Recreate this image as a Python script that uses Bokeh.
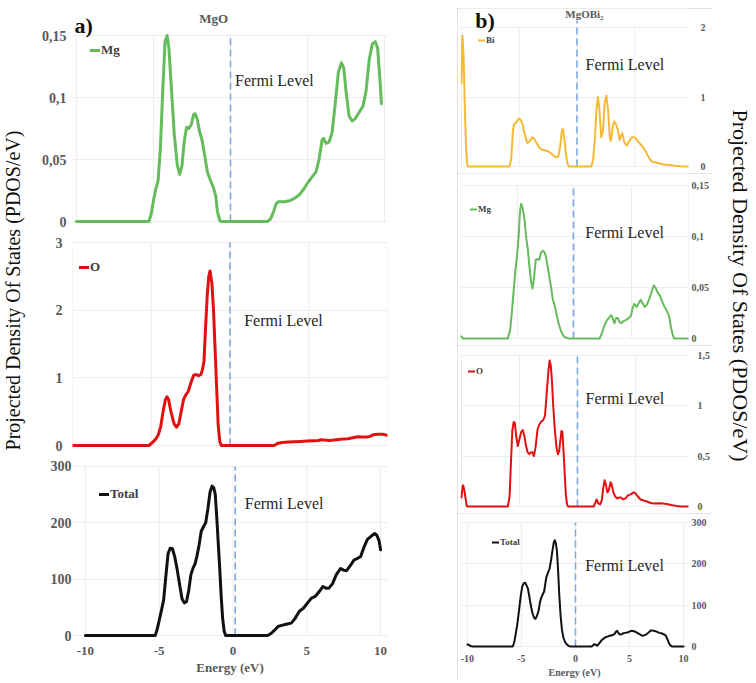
import math
from bokeh.plotting import figure
from bokeh.models import (Range1d, FixedTicker, Label, Legend, LegendItem, Spacer)
from bokeh.layouts import row, column
from bokeh.embed import file_html
from bokeh.resources import INLINE

SERIF = "Liberation Serif"
GRAY = "#595959"

x_ticks = [-10, -5, 0, 5, 10]
x_tick_labels = ["-10", "-5", "0", "5", "10"]

# ---------------- a) MgO ----------------
a_mg_e = [-10, -5.3, -5.15, -5.0, -4.85, -4.7, -4.55, -4.4, -4.25, -4.12, -4.0, -3.85, -3.65, -3.45,
          -3.3, -3.15, -3.0, -2.85, -2.7, -2.55, -2.4, -2.3, -2.15, -2.0, -1.85, -1.7, -1.5, -1.3,
          -1.1, -0.95, -0.85, -0.7, -0.6, 2.4, 2.6, 2.8, 2.95, 3.1, 3.5, 3.9, 4.2, 4.5, 4.75, 5.0,
          5.3, 5.55, 5.75, 5.95, 6.05, 6.2, 6.4, 6.6, 6.8, 7.0, 7.2, 7.35, 7.5, 7.7, 7.9, 8.1, 8.35,
          8.6, 8.8, 9.0, 9.2, 9.4, 9.55, 9.7, 9.8]
a_mg_v = [0, 0, 0.006, 0.017, 0.026, 0.033, 0.06, 0.105, 0.145, 0.15, 0.14, 0.11, 0.07, 0.045,
          0.038, 0.045, 0.065, 0.076, 0.075, 0.078, 0.086, 0.087, 0.082, 0.072, 0.066, 0.055, 0.04,
          0.033, 0.027, 0.02, 0.008, 0.001, 0, 0, 0.002, 0.008, 0.014, 0.016, 0.016, 0.017, 0.019,
          0.022, 0.026, 0.031, 0.036, 0.04, 0.05, 0.066, 0.067, 0.063, 0.064, 0.072, 0.095, 0.12,
          0.128, 0.124, 0.105, 0.085, 0.081, 0.083, 0.088, 0.093, 0.105, 0.13, 0.143, 0.145, 0.14,
          0.115, 0.095]

a_o_e = [-10, -5.15, -4.9, -4.7, -4.55, -4.4, -4.25, -4.1, -4.0, -3.9, -3.75, -3.55, -3.4, -3.25,
         -3.1, -2.95, -2.8, -2.65, -2.45, -2.3, -2.15, -2.0, -1.85, -1.75, -1.65, -1.55, -1.45,
         -1.35, -1.27, -1.15, -1.05, -0.95, -0.85, -0.75, -0.65, -0.55, 2.8, 3.0, 3.3, 3.7, 4.1,
         4.5, 4.9, 5.3, 5.6, 5.8, 6.0, 6.3, 6.6, 6.9, 7.2, 7.5, 7.8, 8.1, 8.4, 8.7, 8.9, 9.1, 9.4,
         9.7, 10]
a_o_v = [0, 0, 0.05, 0.1, 0.16, 0.28, 0.5, 0.68, 0.72, 0.68, 0.5, 0.32, 0.27, 0.32, 0.5, 0.68,
         0.75, 0.8, 0.95, 1.04, 1.05, 1.03, 1.05, 1.12, 1.25, 1.75, 2.2, 2.5, 2.58, 2.4, 2.02, 1.45,
         0.86, 0.3, 0.06, 0, 0, 0.03, 0.045, 0.05, 0.055, 0.06, 0.065, 0.07, 0.075, 0.085, 0.08,
         0.075, 0.08, 0.09, 0.095, 0.1, 0.115, 0.13, 0.125, 0.125, 0.135, 0.16, 0.165, 0.165, 0.15]

a_tot_e = [-10, -5.27, -5.15, -5.04, -4.87, -4.7, -4.55, -4.4, -4.25, -4.1, -3.95, -3.8, -3.6,
           -3.45, -3.3, -3.15, -3.0, -2.85, -2.7, -2.57, -2.45, -2.3, -2.15, -2.0, -1.85, -1.7,
           -1.55, -1.42, -1.3, -1.2, -1.1, -1.0, -0.9, -0.8, -0.7, -0.6, -0.5, 2.35, 2.6, 2.8,
           3.05, 3.3, 3.6, 3.95, 4.2, 4.5, 4.75, 5.0, 5.3, 5.6, 5.85, 6.1, 6.3, 6.5, 6.75, 7.0,
           7.3, 7.5, 7.7, 7.95, 8.2, 8.45, 8.65, 8.85, 9.1, 9.35, 9.6, 9.75, 9.9, 10]
a_tot_v = [0, 0, 10, 22, 42, 63, 105, 145, 155, 154, 140, 120, 88, 65, 58, 60, 80, 108, 120, 127,
           140, 160, 185, 193, 200, 225, 255, 265, 262, 250, 210, 165, 120, 70, 30, 8, 0, 0, 4, 9,
           16, 18, 20, 22, 30, 43, 48, 56, 66, 70, 78, 87, 84, 84, 92, 108, 119, 116, 115, 124,
           134, 137, 140, 155, 170, 176, 181, 178, 168, 152]

# ---------------- b) MgOBi2 ----------------
b_bi_e = [-10, -9.92, -9.82, -9.7, -9.6, -9.5, -9.42, -5.85, -5.7, -5.55, -5.45, -5.25, -5.1,
          -4.98, -4.85, -4.7, -4.5, -4.3, -4.1, -3.88, -3.7, -3.5, -3.25, -3.0, -2.7, -2.4, -2.1,
          -1.8, -1.6, -1.45, -1.3, -1.22, -1.1, -1.0, -0.85, -0.72, 1.25, 1.4, 1.55, 1.7, 1.82,
          1.95, 2.1, 2.25, 2.4, 2.55, 2.7, 2.85, 2.95, 3.1, 3.22, 3.4, 3.55, 3.7, 3.8, 3.93, 4.1,
          4.3, 4.5, 4.75, 5.0, 5.25, 5.5, 5.75, 6.0, 6.25, 6.5, 7.0, 7.5, 8.0, 8.5, 9.0, 10]
b_bi_v = [1.2, 1.88, 1.6, 0.8, 0.25, 0.03, 0, 0, 0.1, 0.5, 0.61, 0.63, 0.68, 0.69, 0.66, 0.6,
          0.45, 0.34, 0.36, 0.42, 0.4, 0.34, 0.27, 0.24, 0.23, 0.21, 0.17, 0.13, 0.15, 0.3, 0.52,
          0.54, 0.42, 0.25, 0.06, 0, 0, 0.1, 0.4, 0.85, 1.0, 0.8, 0.42, 0.5, 0.92, 1.02, 0.8, 0.4,
          0.37, 0.58, 0.65, 0.6, 0.52, 0.38, 0.44, 0.48, 0.35, 0.3, 0.36, 0.42, 0.42, 0.37, 0.32,
          0.27, 0.2, 0.12, 0.07, 0.05, 0.03, 0.02, 0.01, 0.005, 0]

b_mg_e = [-10, -9.9, -9.8, -5.85, -5.65, -5.5, -5.35, -5.2, -5.05, -4.9, -4.78, -4.68, -4.55,
          -4.4, -4.25, -4.1, -3.95, -3.8, -3.68, -3.55, -3.4, -3.25, -3.1, -2.95, -2.8, -2.65,
          -2.5, -2.35, -2.2, -2.05, -1.9, -1.75, -1.6, -1.4, -1.2, -1.0, -0.8, -0.5, 2.2, 2.4, 2.6,
          2.8, 3.0, 3.2, 3.35, 3.5, 3.65, 3.8, 3.95, 4.1, 4.3, 4.5, 4.75, 4.95, 5.1, 5.25, 5.45,
          5.6, 5.8, 5.95, 6.15, 6.35, 6.6, 6.8, 6.95, 7.1, 7.3, 7.5, 7.7, 7.9, 8.1, 8.3, 8.45, 8.6,
          8.75, 10]
b_mg_v = [0.002, 0.002, 0, 0, 0.008, 0.025, 0.045, 0.065, 0.08, 0.1, 0.125, 0.132, 0.128, 0.118,
          0.1, 0.088, 0.07, 0.055, 0.049, 0.06, 0.077, 0.078, 0.077, 0.084, 0.086, 0.085, 0.08,
          0.07, 0.06, 0.05, 0.038, 0.033, 0.025, 0.015, 0.008, 0.003, 0.001, 0, 0, 0.005, 0.012,
          0.017, 0.02, 0.023, 0.02, 0.015, 0.02, 0.02, 0.016, 0.015, 0.017, 0.018, 0.02, 0.022,
          0.03, 0.034, 0.031, 0.034, 0.038, 0.035, 0.031, 0.033, 0.04, 0.047, 0.052, 0.05, 0.045,
          0.042, 0.036, 0.031, 0.027, 0.022, 0.012, 0.004, 0, 0]

b_o_e = [-10, -9.9, -9.85, -9.75, -9.65, -9.55, -9.5, -6.0, -5.85, -5.75, -5.62, -5.5, -5.4,
         -5.28, -5.15, -5.0, -4.85, -4.72, -4.58, -4.43, -4.3, -4.15, -4.0, -3.9, -3.75, -3.6,
         -3.45, -3.3, -3.15, -2.95, -2.8, -2.7, -2.6, -2.5, -2.4, -2.3, -2.2, -2.1, -1.95, -1.8,
         -1.68, -1.58, -1.48, -1.38, -1.3, -1.2, -1.1, -1.0, -0.9, -0.8, 1.4, 1.55, 1.65, 1.8,
         1.95, 2.1, 2.22, 2.34, 2.45, 2.58, 2.7, 2.85, 2.95, 3.1, 3.25, 3.45, 3.6, 3.75, 3.95,
         4.15, 4.35, 4.6, 4.85, 5.0, 5.2, 5.45, 5.7, 6.0, 6.3, 6.6, 7.0, 7.4, 7.8, 8.2, 8.6, 8.9,
         10]
b_o_v = [0.09, 0.2, 0.21, 0.16, 0.08, 0.01, 0, 0, 0.1, 0.39, 0.75, 0.84, 0.83, 0.7, 0.6, 0.67,
         0.74, 0.76, 0.7, 0.6, 0.54, 0.52, 0.54, 0.54, 0.5, 0.6, 0.76, 0.81, 0.84, 0.86, 0.9, 1.05,
         1.2, 1.35, 1.45, 1.4, 1.25, 1.02, 0.76, 0.58, 0.52, 0.55, 0.65, 0.75, 0.74, 0.55, 0.33,
         0.12, 0.02, 0, 0, 0.04, 0.07, 0.03, 0.02, 0.06, 0.18, 0.26, 0.22, 0.14, 0.16, 0.24, 0.22,
         0.14, 0.1, 0.08, 0.09, 0.09, 0.07, 0.08, 0.11, 0.12, 0.14, 0.13, 0.1, 0.07, 0.06, 0.05,
         0.035, 0.03, 0.032, 0.03, 0.022, 0.012, 0.004, 0, 0]

b_tot_e = [-10, -9.85, -9.7, -9.5, -5.8, -5.65, -5.5, -5.4, -5.28, -5.18, -5.05, -4.92, -4.78,
           -4.64, -4.5, -4.4, -4.25, -4.1, -3.95, -3.8, -3.7, -3.55, -3.4, -3.3, -3.2, -3.05,
           -2.9, -2.8, -2.7, -2.55, -2.4, -2.25, -2.15, -2.02, -1.92, -1.82, -1.72, -1.62, -1.5,
           -1.38, -1.25, -1.1, -0.95, -0.8, -0.6, -0.45, 1.5, 1.62, 1.75, 1.88, 2.0, 2.15, 2.3,
           2.45, 2.6, 2.75, 2.95, 3.15, 3.4, 3.6, 3.75, 3.85, 3.95, 4.05, 4.2, 4.4, 4.6, 4.8, 5.0,
           5.2, 5.4, 5.6, 5.8, 6.0, 6.2, 6.35, 6.6, 6.85, 7.0, 7.25, 7.5, 7.75, 7.95, 8.2, 8.35,
           8.5, 8.65, 8.8, 8.95, 10]
b_tot_v = [5, 4, 1, 0, 0, 12, 35, 50, 75, 97, 125, 146, 153, 154, 146, 140, 118, 95, 78, 68, 67,
           75, 88, 105, 116, 125, 133, 150, 167, 178, 188, 210, 228, 250, 257, 250, 232, 190, 125,
           75, 40, 20, 10, 5, 1, 0, 0, 3, 6, 4, 2, 6, 11, 16, 19, 22, 24, 26, 27, 30, 36, 38, 34,
           30, 29, 32, 33, 34, 36, 38, 37, 35, 32, 29, 26, 27, 30, 36, 39, 38, 36, 33, 32, 29, 27,
           18, 8, 2, 0, 0]

fermi_a = [0.0, 0.0, 0.15]
fermi_b = [0.0, -0.1, 0.0, 0.0]
fermi_top_b_bi = 2.1

BOX = {"outline": "1px solid #d9d9d9", "outline-offset": "-1px"}

# column geometry (screen px): column edges and the shared plot frame edges
A_COL = (38, 395)
A_FRAME = (70, 387)
B_COL = (457, 713)
B_FRAME = (460, 692)


def make_panel(col, frame, xmap, h, bt, bb, energy, dos, color, lw, ymax, yticks, ylabels,
               name, side, tick_px, std, leg_px, leg_w, leg_x, leg_cy, fermi, ftxt,
               show_x=False, xlab_px=13, xstd=8, xlstd=1, boxed=False, pad_px=2, heads=(),
               ftop=None):
    w = col[1] - col[0]
    bl = frame[0] - col[0]
    br = col[1] - frame[1]
    xl, xr = xmap                       # screen px where x=-10 and x=10 fall
    upx = 20 / (xr - xl)
    x0 = -10 - (xl - frame[0]) * upx
    x1 = 10 + (frame[1] - xr) * upx
    fh0 = h - bt - bb
    upp = ymax / fh0
    kw = {"styles": BOX} if boxed else {}
    p = figure(width=w, height=h, output_backend="svg", toolbar_location=None,
               x_range=Range1d(x0, x1), y_range=Range1d(-pad_px * upp, ymax + bt * upp),
               y_axis_location=side, min_border_left=bl, min_border_right=br,
               min_border_top=0, min_border_bottom=bb - pad_px, **kw)
    p.outline_line_color = None
    p.xgrid.visible = False
    p.ygrid.ticker = FixedTicker(ticks=yticks)
    p.ygrid.grid_line_color = "#ededed"
    p.segment(x0=x_ticks, y0=[0] * len(x_ticks), x1=x_ticks, y1=[ymax] * len(x_ticks),
              line_color="#ededed", line_width=1)

    ya = p.yaxis[0]
    ya.ticker = FixedTicker(ticks=yticks)
    ya.major_label_overrides = {t: l for t, l in zip(yticks, ylabels)}
    xa = p.xaxis[0]
    xa.ticker = FixedTicker(ticks=x_ticks)
    xa.major_label_overrides = {t: l for t, l in zip(x_ticks, x_tick_labels)}
    for ax in (xa, ya):
        ax.axis_line_color = None
        ax.major_tick_line_color = None
        ax.minor_tick_line_color = None
        ax.major_tick_out = 0
        ax.major_tick_in = 0
        ax.minor_tick_out = 0
        ax.major_label_text_font = SERIF
        ax.major_label_text_font_style = "bold"
        ax.major_label_text_color = GRAY
        ax.major_label_text_font_size = f"{tick_px}px"
    ya.major_label_standoff = std
    if show_x:
        xa.major_label_text_font_size = f"{xlab_px}px"
        xa.major_label_standoff = xstd
        xa.axis_label = "Energy (eV)"
        xa.axis_label_text_font = SERIF
        xa.axis_label_text_font_style = "bold"
        xa.axis_label_text_color = GRAY
        xa.axis_label_text_font_size = f"{xlab_px}px"
        xa.axis_label_standoff = xlstd
    else:
        xa.visible = False

    top = ymax if ftop is None else ftop
    p.segment(x0=[fermi], y0=[0], x1=[fermi], y1=[top], line_color="#7ea9e0",
              line_dash="7 4", line_width=1.6)
    r = p.line(energy, dos, line_color=color, line_width=lw, line_join="round",
               line_cap="round")
    p.add_layout(Label(x=ftxt[0], y=ftxt[1], text="Fermi Level", text_font=SERIF,
                       text_font_size="16px", text_color="#262626",
                       text_baseline="middle", text_align="left"))
    ih = leg_px + 3
    vy = fh0 + pad_px - leg_cy - ih / 2
    leg = Legend(items=[LegendItem(label=name, renderers=[r])],
                 location=(leg_x - frame[0], vy),
                 background_fill_alpha=0, border_line_color=None, padding=0, margin=0,
                 spacing=0, glyph_width=leg_w, glyph_height=ih, label_height=ih,
                 label_standoff=1, label_text_font=SERIF, label_text_font_style="bold",
                 label_text_font_size=f"{leg_px}px", label_text_color="#404040")
    p.add_layout(leg)
    for text, px, dy, size, align, col_ in heads:
        p.add_layout(Label(x=-10 + (px - xl) * upx, y=ymax - dy * upp, text=text,
                           text_font=SERIF, text_font_style="bold",
                           text_font_size=f"{size}px", text_color=col_,
                           text_baseline="top", text_align=align))
    return p


# ---- left column (a) ----
pa1 = make_panel(A_COL, A_FRAME, (74, 384), 222, 27, 9, a_mg_e, a_mg_v, "#66bb5c", 3, 0.15,
                 [0, 0.05, 0.1, 0.15], ["0", "0,05", "0,1", "0,15"], "Mg", "left", 14, 6,
                 13, 10, 88, 15, fermi_a[0], (0.3, 0.114),
                 heads=[("a)", 72, -23, 22, "left", "#111111"),
                        ("MgO", 212, -25, 13, "center", GRAY)])
pa2 = make_panel(A_COL, A_FRAME, (70, 387), 225, 12, 10, a_o_e, a_o_v, "#e31010", 3, 3,
                 [0, 1, 2, 3], ["0", "1", "2", "3"], "O", "left", 14, 10,
                 13, 10, 77, 25, fermi_a[1], (0.9, 1.84))
pa3 = make_panel(A_COL, A_FRAME, (83, 380), 222, 11, 41, a_tot_e, a_tot_v, "#111111", 3, 300,
                 [0, 100, 200, 300], ["0", "100", "200", "300"], "Total", "left", 14, 1,
                 13, 10, 97, 29, fermi_a[2], (0.8, 235), show_x=True, xlab_px=13,
                 xstd=9, xlstd=2)

# ---- right column (b) ----
pb1 = make_panel(B_COL, B_FRAME, (461, 696), 165, 19, 7, b_bi_e, b_bi_v, "#f5b935", 2, 2,
                 [0, 1, 2], ["0", "1", "2"], "Bi", "right", 10, 12,
                 9, 7, 478, 13, fermi_b[0], (0.75, 1.47), boxed=True,
                 heads=[("b)", 475, -20, 22, "left", "#111111"),
                        ("MgOBi\u2082", 586, -20, 11, "center", GRAY)],
                 ftop=fermi_top_b_bi)
pb2 = make_panel(B_COL, B_FRAME, (460, 692), 172, 12, 7, b_mg_e, b_mg_v, "#66bb5c", 2, 0.15,
                 [0, 0.05, 0.1, 0.15], ["0", "0,05", "0,1", "0,15"], "Mg", "right", 10, 3,
                 9, 7, 470, 24, fermi_b[1], (0.95, 0.104), boxed=True)
pb3 = make_panel(B_COL, B_FRAME, (461, 697), 168, 10, 7, b_o_e, b_o_v, "#e31010", 2, 1.5,
                 [0, 0.5, 1, 1.5], ["0", "0,5", "1", "1,5"], "O", "right", 10, 9,
                 9, 7, 468, 16, fermi_b[2], (0.7, 1.07), boxed=True)
pb4 = make_panel(B_COL, B_FRAME, (467, 687), 167, 9, 33, b_tot_e, b_tot_v, "#111111", 2, 300,
                 [0, 100, 200, 300], ["0", "100", "200", "300"], "Total", "right", 10, 3,
                 9, 7, 492, 21, fermi_b[3], (0.9, 197), show_x=True, xlab_px=10,
                 xstd=6, xlstd=2, boxed=True)

YLAB = "Projected Density Of States (PDOS/eV)"
TOTAL_H = 667


def label_fig(w, cx, cy, ang, size):
    f = figure(width=w, height=TOTAL_H, output_backend="svg", toolbar_location=None,
               x_range=Range1d(0, w), y_range=Range1d(TOTAL_H, 0), min_border=0,
               x_axis_type=None, y_axis_type=None)
    f.grid.visible = False
    f.outline_line_color = None
    f.add_layout(Label(x=cx, y=cy, text=YLAB, angle=ang, text_font=SERIF,
                       text_font_size=f"{size}px", text_color="#111111",
                       text_align="center", text_baseline="middle"))
    return f


labL = label_fig(38, 12, 282, math.pi / 2, 20)
labR = label_fig(43, 27, 277, -math.pi / 2, 22)

layout = column(Spacer(width=756, height=8),
                row(labL, column(pa1, pa2, pa3), Spacer(width=62, height=TOTAL_H),
                    column(pb1, pb2, pb3, pb4), labR))

open("out.html", "w").write(file_html(layout, INLINE))
